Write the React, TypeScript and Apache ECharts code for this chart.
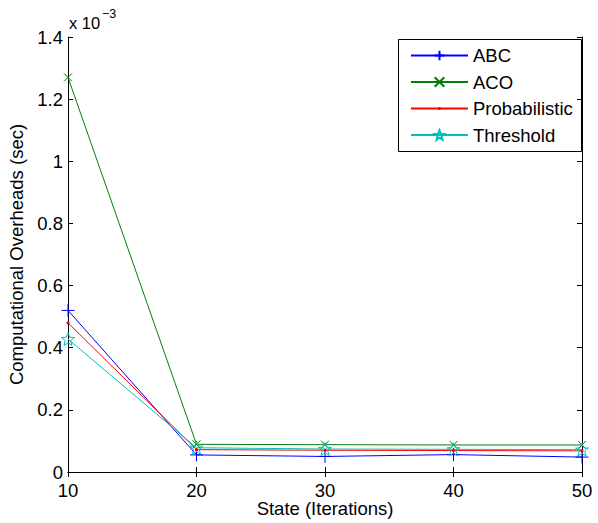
import React, { useEffect, useRef } from "react";
import * as echarts from "echarts";

const states = [10, 20, 30, 40, 50];
const abc = [0.52, 0.055, 0.05, 0.056, 0.048];
const aco = [1.27, 0.089, 0.088, 0.087, 0.087];
const probabilistic = [0.48, 0.072, 0.07, 0.069, 0.068];
const threshold = [0.428, 0.078, 0.074, 0.073, 0.072];
const seriesNames = ["ABC", "ACO", "Probabilistic", "Threshold"];
const yTicks = [0, 0.2, 0.4, 0.6, 0.8, 1, 1.2, 1.4];
const xTitle = "State (Iterations)";
const yTitle = "Computational Overheads (sec)";

// symbol outlines (shapes only)
const plusPath = "path://M5,0L5,10M0,5L10,5";
const crossPath = "path://M0,0L10,10M0,10L10,0";
const dotPath = "path://M0,0L0,0M10,10L10,10M3.4,5A1.6,1.6,0,1,0,6.6,5A1.6,1.6,0,1,0,3.4,5Z";
function starPath(): string {
  const pts: string[] = [];
  for (let k = 0; k < 10; k++) {
    const r = k % 2 === 0 ? 10 : 4.2;
    const a = (-90 + k * 36) * Math.PI / 180;
    pts.push((10 + r * Math.cos(a)).toFixed(2) + "," + (10 + r * Math.sin(a)).toFixed(2));
  }
  return "path://M" + pts.join("L") + "Z";
}

const FONT = "Liberation Sans, Arial, sans-serif";
const FS = 18.5;

export default function App() {
  const ref = useRef<HTMLDivElement>(null);
  useEffect(() => {
    if (!ref.current) return;
    const chart = echarts.init(ref.current, null, { renderer: "svg" });
    const mk = (v: number[]) => states.map((s, i) => [s, v[i]]);
    chart.setOption({
      animation: false,
      backgroundColor: "#fff",
      textStyle: { fontFamily: FONT },
      grid: { left: 68, right: 16, top: 37, bottom: 51, containLabel: false, outerBoundsMode: "none" },
      xAxis: [
        {
          type: "value", min: 10, max: 50, interval: 10, position: "bottom",
          axisLine: { lineStyle: { color: "#000", width: 1 } },
          axisTick: { inside: true, length: 5, lineStyle: { color: "#000" } },
          axisLabel: { fontSize: FS, lineHeight: 15, color: "#000", margin: 11, fontFamily: FONT },
          splitLine: { show: false },
        },
        {
          type: "value", min: 10, max: 50, interval: 10, position: "top",
          axisLine: { lineStyle: { color: "#000", width: 1 } },
          axisTick: { inside: true, length: 5, lineStyle: { color: "#000" } },
          axisLabel: { show: false }, splitLine: { show: false },
        },
      ],
      yAxis: [
        {
          type: "value", min: yTicks[0], max: yTicks[yTicks.length - 1], interval: 0.2, position: "left",
          name: yTitle, nameLocation: "middle", nameGap: 31,
          nameTextStyle: { fontSize: FS, color: "#000", fontFamily: FONT },
          axisLine: { show: true, lineStyle: { color: "#000", width: 1 } },
          axisTick: { show: true, inside: true, length: 5, lineStyle: { color: "#000" } },
          axisLabel: { fontSize: FS, lineHeight: 15, color: "#000", margin: 5, fontFamily: FONT,
            formatter: (v: number) => String(Math.round(v * 10) / 10) },
          splitLine: { show: false },
        },
        {
          type: "value", min: yTicks[0], max: yTicks[yTicks.length - 1], interval: 0.2, position: "right",
          axisLine: { show: true, lineStyle: { color: "#000", width: 1 } },
          axisTick: { show: true, inside: true, length: 5, lineStyle: { color: "#000" } },
          axisLabel: { show: false }, splitLine: { show: false },
        },
      ],
      legend: {
        orient: "vertical", left: 410, top: 46,
        itemWidth: 57, itemHeight: 12, itemGap: 7.5, padding: 0,
        textStyle: { fontSize: FS, color: "#000", fontFamily: FONT, lineHeight: 19 },
        data: seriesNames,
      },
      graphic: [
        { type: "rect", shape: { x: 398.5, y: 39.5, width: 183, height: 112 },
          style: { fill: "none", stroke: "#000", lineWidth: 1 }, z: 100 },
        { type: "text", left: 69, top: 14, style: { text: "x 10", fontSize: 16.5, fill: "#000", fontFamily: FONT } },
        { type: "text", left: 102, top: 7, style: { text: "\u22123", fontSize: 12.5, fill: "#000", fontFamily: FONT } },
        { type: "text", x: 325, y: 499,
          style: { text: xTitle, fontSize: FS, fill: "#000", fontFamily: FONT, align: "center", verticalAlign: "top" } },
      ],
      series: [
        {
          name: seriesNames[0], type: "line", data: mk(abc),
          symbol: plusPath, symbolSize: 13,
          lineStyle: { color: "#0000ff", width: 1 },
          itemStyle: { color: "#0000ff", borderColor: "#0000ff", borderWidth: 1 },
        },
        {
          name: seriesNames[1], type: "line", data: mk(aco),
          symbol: crossPath, symbolSize: 8,
          lineStyle: { color: "#008000", width: 1 },
          itemStyle: { color: "#008000", borderColor: "#008000", borderWidth: 1 },
        },
        {
          name: seriesNames[2], type: "line", data: mk(probabilistic),
          symbol: dotPath, symbolSize: 10,
          lineStyle: { color: "#ff0000", width: 1 },
          itemStyle: { color: "#ff0000", borderWidth: 0 },
        },
        {
          name: seriesNames[3], type: "line", data: mk(threshold),
          symbol: starPath(), symbolSize: 13,
          lineStyle: { color: "#00bfbf", width: 1 },
          itemStyle: { color: "rgba(0,0,0,0)", borderColor: "#00bfbf", borderWidth: 1 },
        },
      ],
    });
    return () => chart.dispose();
  }, []);
  return (
    <div
      ref={ref}
      style={{ position: "fixed", left: 0, top: 0, width: 598, height: 523, background: "#fff" }}
    />
  );
}
